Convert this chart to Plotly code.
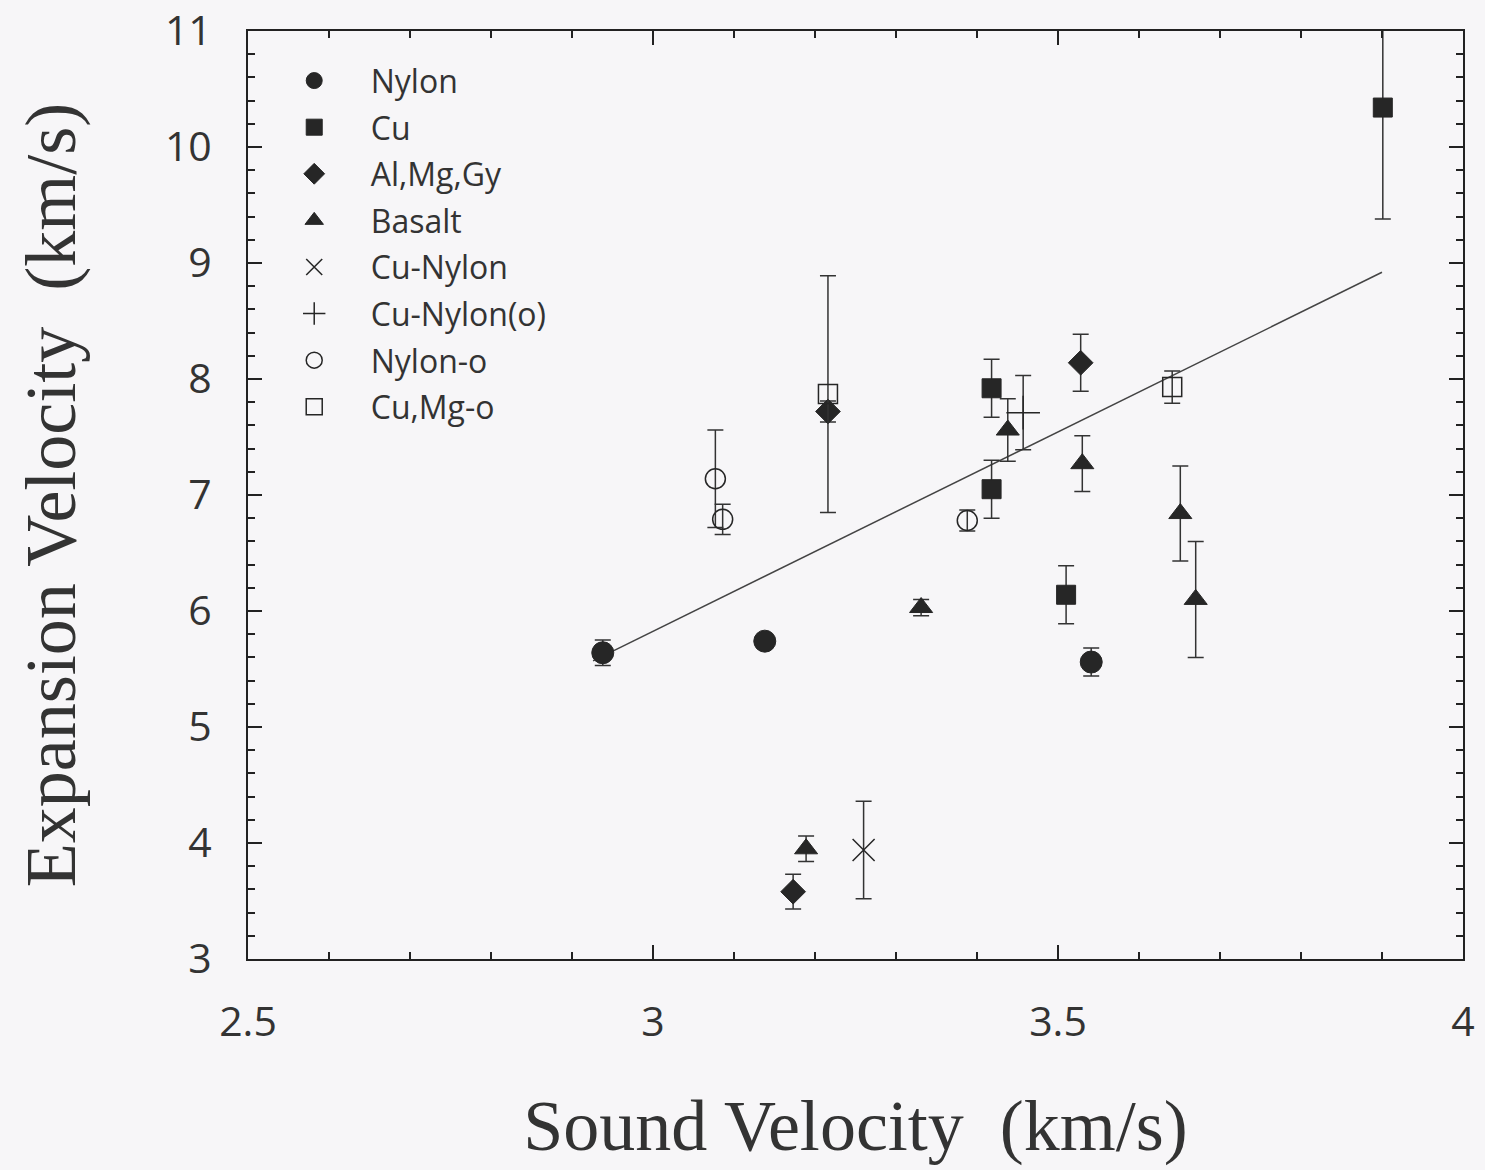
import plotly.graph_objects as go

# ---- data ----
nylon_x = [2.938, 3.138, 3.541]
nylon_y = [5.64, 5.74, 5.56]
nylon_e = [0.11, 0.06, 0.12]

cu_x = [3.901, 3.418, 3.418, 3.510]
cu_y = [10.34, 7.92, 7.05, 6.14]
cu_e = [0.96, 0.25, 0.25, 0.25]

almg_x = [3.216, 3.528, 3.173]
almg_y = [7.72, 8.14, 3.58]
almg_e = [0.09, 0.245, 0.15]

basalt_x = [3.438, 3.530, 3.651, 3.670, 3.331, 3.189]
basalt_y = [7.56, 7.27, 6.84, 6.10, 6.03, 3.95]
basalt_e = [0.27, 0.24, 0.41, 0.50, 0.07, 0.11]

cunylon_x = [3.260]
cunylon_y = [3.94]
cunylon_e = [0.42]

cunylono_x = [3.457]
cunylono_y = [7.71]
cunylono_e = [0.32]

nylono_x = [3.077, 3.086, 3.388]
nylono_y = [7.14, 6.79, 6.78]
nylono_e = [0.42, 0.13, 0.09]

cumgo_x = [3.216, 3.641]
cumgo_y = [7.87, 7.93]
cumgo_e = [1.02, 0.14]

fit_x = [2.926, 3.900]
fit_y = [5.57, 8.92]

INK = "#262626"

series = [
    ("Nylon", nylon_x, nylon_y, nylon_e, "circle", 22, 1),
    ("Cu", cu_x, cu_y, cu_e, "square", 19, 1),
    ("Al,Mg,Gy", almg_x, almg_y, almg_e, "diamond", 19, 1),
    ("Basalt", basalt_x, basalt_y, basalt_e, "triangle-up", 20, 1),
    ("Cu-Nylon", cunylon_x, cunylon_y, cunylon_e, "x-thin", 22, 1.5),
    ("Cu-Nylon(o)", cunylono_x, cunylono_y, cunylono_e, "cross-thin", 24, 1.5),
    ("Nylon-o", nylono_x, nylono_y, nylono_e, "circle-open", 20, 1.5),
    ("Cu,Mg-o", cumgo_x, cumgo_y, cumgo_e, "square-open", 19, 1.5),
]

fig = go.Figure()

fig.add_trace(go.Scatter(x=fit_x, y=fit_y, mode="lines",
                         line=dict(color="#444444", width=1.5),
                         showlegend=False, hoverinfo="skip"))

for i, (name, xs, ys, es, sym, sz, lw) in enumerate(series):
    fig.add_trace(go.Scatter(
        x=xs, y=ys, mode="markers", name=name, legendgroup="g%d" % i,
        marker=dict(symbol=sym, size=sz, color=INK,
                    line=dict(color=INK, width=lw)),
        error_y=dict(type="data", array=es, visible=True,
                     color="#333333", thickness=1.5, width=8),
    ))

axis_common = dict(
    showline=True, linecolor="#222222", linewidth=2, mirror="ticks",
    ticks="inside", ticklen=14, tickwidth=1.5, tickcolor="#222222",
    showgrid=False, zeroline=False, automargin=False,
    ticklabeloverflow="allow",
    tickfont=dict(family="Open Sans, Liberation Sans, sans-serif", size=41, color="#333333"),
)

fig.update_xaxes(range=[2.5, 4], dtick=0.5, tick0=2.5,
                 minor=dict(dtick=0.1, ticks="inside", ticklen=7, tickcolor="#222222", tickwidth=1.5),
                 title=dict(text="Sound Velocity  (km/s)", standoff=52,
                            font=dict(family="Liberation Serif, Times New Roman, serif", size=72, color="#333333")),
                 ticklabelstandoff=26,
                 **axis_common)
fig.update_yaxes(range=[3, 11], dtick=1, tick0=3,
                 minor=dict(dtick=0.2, ticks="inside", ticklen=7, tickcolor="#222222", tickwidth=1.5),
                 title=dict(text="Expansion Velocity  (km/s)", standoff=66,
                            font=dict(family="Liberation Serif, Times New Roman, serif", size=72, color="#333333")),
                 ticklabelstandoff=26,
                 **axis_common)

fig.update_layout(
    width=1485, height=1170,
    margin=dict(l=248, r=22, t=31, b=211),
    paper_bgcolor="#f7f6f8", plot_bgcolor="#f7f6f8",
    showlegend=True,
    legend=dict(x=0.008, y=0.976, xanchor="left", yanchor="top",
                bgcolor="rgba(0,0,0,0)", borderwidth=0,
                font=dict(family="Open Sans, Liberation Sans, sans-serif", size=32, color="#333333"),
                itemwidth=103, tracegroupgap=2, traceorder="grouped"),
)

fig.write_html("out.html", config={"displayModeBar": False},
               post_script="document.body.style.margin='0';")
